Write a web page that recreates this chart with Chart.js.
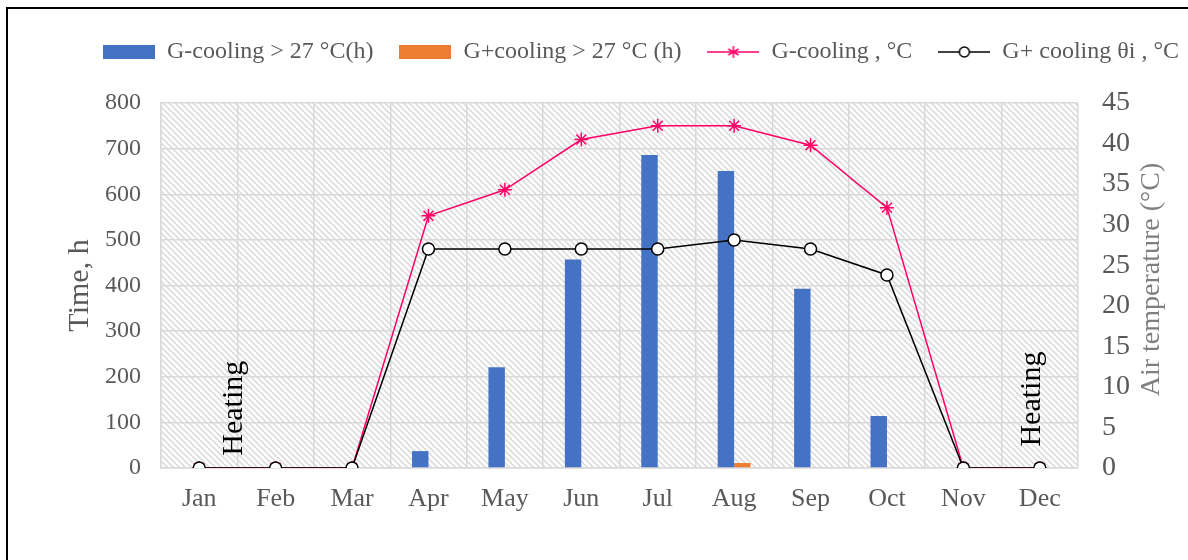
<!DOCTYPE html>
<html lang="en">
<head>
<meta charset="UTF-8">
<title>Cooling hours and air temperature</title>
<script src="https://cdn.jsdelivr.net/npm/chart.js"></script>
<style>
    html, body { margin: 0; padding: 0; background: #fff; }
    #frame {
        position: absolute; left: 6px; top: 7px; width: 1400px; height: 800px;
        border-left: 2px solid #000; border-top: 2px solid #000;
    }
    #wrap { position: absolute; left: 0; top: 0; width: 1188px; height: 560px; }
</style>
</head>
<body>
<div id="frame"></div>
<div id="wrap"><canvas id="chart"></canvas></div>
<script>
const months = ['Jan', 'Feb', 'Mar', 'Apr', 'May', 'Jun', 'Jul', 'Aug', 'Sep', 'Oct', 'Nov', 'Dec'];
const hoursNoCooling = [0, 0, 0, 37, 221, 457, 686, 651, 393, 114, 0, 0];
const hoursCooling = [0, 0, 0, 0, 0, 0, 0, 11, 0, 0, 0, 0];
const tempNoCooling = [0, 0, 0, 31.1, 34.3, 40.5, 42.2, 42.2, 39.8, 32.1, 0, 0];
const tempCooling = [0, 0, 0, 27, 27, 27, 27, 28.1, 27, 23.8, 0, 0];
const hoursTicks = [0, 100, 200, 300, 400, 500, 600, 700, 800];
const tempTicks = [0, 5, 10, 15, 20, 25, 30, 35, 40, 45];
// note labels, x in category units, y in hours
const notes = [
    { text: 'Heating', x: 0.46, y: 131 },
    { text: 'Heating', x: 10.9, y: 151 }
];

const SERIF = "'Liberation Serif', 'Times New Roman', serif";
const GREY = '#595959';
const GRID = '#d9d9d9';
const PINK = '#FF0066';
const BLUE = '#4472C4';
const ORANGE = '#ED7D31';

function swatch(draw) {
    const c = document.createElement('canvas');
    c.width = 52; c.height = 14;
    draw(c.getContext('2d'));
    return c;
}
const legendIcons = [
    swatch(ctx => { ctx.fillStyle = BLUE; ctx.fillRect(0, 0, 52, 14); }),
    swatch(ctx => { ctx.fillStyle = ORANGE; ctx.fillRect(0, 0, 52, 14); }),
    swatch(ctx => {
        ctx.strokeStyle = PINK; ctx.lineWidth = 1.5;
        ctx.beginPath(); ctx.moveTo(0, 7); ctx.lineTo(52, 7); ctx.stroke();
        ctx.beginPath();
        for (let a = 0; a < 3; a++) {
            const ang = Math.PI / 2 + a * Math.PI / 3;
            ctx.moveTo(26 - 6 * Math.cos(ang), 7 - 6 * Math.sin(ang));
            ctx.lineTo(26 + 6 * Math.cos(ang), 7 + 6 * Math.sin(ang));
        }
        ctx.stroke();
    }),
    swatch(ctx => {
        ctx.strokeStyle = '#000'; ctx.lineWidth = 1.5;
        ctx.beginPath(); ctx.moveTo(0, 7); ctx.lineTo(52, 7); ctx.stroke();
        ctx.beginPath(); ctx.arc(26, 7, 5, 0, Math.PI * 2);
        ctx.fillStyle = '#fff'; ctx.fill(); ctx.stroke();
    })
];

// hatched plot background
function hatch() {
    const c = document.createElement('canvas');
    c.width = 6; c.height = 6;
    const ctx = c.getContext('2d');
    ctx.fillStyle = '#fff'; ctx.fillRect(0, 0, 6, 6);
    ctx.strokeStyle = '#dcdcdc'; ctx.lineWidth = 1.6;
    ctx.beginPath();
    ctx.moveTo(-1, -1); ctx.lineTo(7, 7);
    ctx.moveTo(-4, 2); ctx.lineTo(1, 7);
    ctx.moveTo(2, -4); ctx.lineTo(7, 1);
    ctx.stroke();
    return c;
}

const plotBackground = {
    id: 'plotBackground',
    beforeDraw(chart) {
        const { ctx, chartArea: a } = chart;
        ctx.save();
        ctx.fillStyle = ctx.createPattern(hatch(), 'repeat');
        ctx.fillRect(a.left, a.top, a.right - a.left, a.bottom - a.top);
        ctx.restore();
    }
};

// extra room under the legend, and move it a little to the right
const legendTweak = {
    id: 'legendTweak',
    beforeInit(chart) {
        const fit = chart.legend.fit;
        chart.legend.fit = function () {
            fit.call(this);
            this.height += 29;
        };
    },
    afterLayout(chart) {
        chart.legend.left += 32;
        chart.legend.right += 32;
    }
};

const extraText = {
    id: 'extraText',
    afterDatasetsDraw(chart) {
        const { ctx, chartArea: a, scales } = chart;
        ctx.save();
        ctx.fillStyle = '#000';
        ctx.font = '30px ' + SERIF;
        ctx.textAlign = 'center';
        ctx.textBaseline = 'middle';
        notes.forEach(n => {
            ctx.save();
            ctx.translate(scales.x.getPixelForValue(n.x), scales.y.getPixelForValue(n.y));
            ctx.rotate(-Math.PI / 2);
            ctx.fillText(n.text, 0, 0);
            ctx.restore();
        });
        // right axis title, reading bottom to top
        ctx.fillStyle = '#7f7f7f';
        ctx.font = '28px ' + SERIF;
        ctx.translate(1152, (a.top + a.bottom) / 2 - 6);
        ctx.rotate(-Math.PI / 2);
        ctx.fillText('Air temperature (°C)', 0, 0);
        ctx.restore();
    }
};

new Chart(document.getElementById('chart'), {
    type: 'bar',
    data: {
        labels: months,
        datasets: [
            {
                label: 'G-cooling > 27 °C(h)',
                data: hoursNoCooling,
                backgroundColor: BLUE,
                yAxisID: 'y',
                order: 2,
                barPercentage: 1,
                categoryPercentage: 0.43
            },
            {
                label: 'G+cooling > 27 °C (h)',
                data: hoursCooling,
                backgroundColor: ORANGE,
                yAxisID: 'y',
                order: 3,
                barPercentage: 1,
                categoryPercentage: 0.43
            },
            {
                type: 'line',
                label: 'G-cooling , °C',
                data: tempNoCooling,
                borderColor: PINK,
                backgroundColor: PINK,
                borderWidth: 1.5,
                pointStyle: 'star',
                pointRadius: 7,
                pointBorderWidth: 1.5,
                yAxisID: 'y1',
                order: 1,
                tension: 0
            },
            {
                type: 'line',
                label: 'G+ cooling θi , °C',
                data: tempCooling,
                borderColor: '#000',
                backgroundColor: '#fff',
                borderWidth: 1.5,
                pointStyle: 'circle',
                pointRadius: 6,
                pointBorderWidth: 1.5,
                yAxisID: 'y1',
                order: 0,
                tension: 0
            }
        ]
    },
    options: {
        responsive: true,
        maintainAspectRatio: false,
        animation: false,
        layout: { padding: { left: 30, right: 0, top: 14, bottom: 0 } },
        plugins: {
            tooltip: { enabled: false },
            legend: {
                position: 'top',
                labels: {
                    usePointStyle: true,
                    pointStyleWidth: 52,
                    padding: 26,
                    color: GREY,
                    font: { family: SERIF, size: 24 },
                    sort: (a, b) => a.datasetIndex - b.datasetIndex,
                    generateLabels(chart) {
                        const items = Chart.defaults.plugins.legend.labels.generateLabels(chart);
                        items.forEach(it => { it.pointStyle = legendIcons[it.datasetIndex]; });
                        return items;
                    }
                }
            }
        },
        scales: {
            x: {
                grid: { color: GRID, lineWidth: 1.5, drawTicks: false, offset: true },
                border: { color: GRID, width: 1.5 },
                ticks: { color: GREY, font: { family: SERIF, size: 26 }, padding: 16 },
                afterFit(s) { s.height = 92; }
            },
            y: {
                position: 'left',
                min: 0,
                max: 800,
                afterBuildTicks(s) { s.ticks = hoursTicks.map(v => ({ value: v })); },
                grid: { color: GRID, lineWidth: 1.5, drawTicks: false },
                border: { color: GRID, width: 1.5 },
                ticks: { color: GREY, font: { family: SERIF, size: 24 }, padding: 20 },
                title: {
                    display: true, text: 'Time, h', color: GREY,
                    font: { family: SERIF, size: 30 }, padding: { top: 32, bottom: 4 }
                },
                afterFit(s) { s.width = 131; }
            },
            y1: {
                position: 'right',
                min: 0,
                max: 45,
                afterBuildTicks(s) { s.ticks = tempTicks.map(v => ({ value: v })); },
                grid: { display: false, drawTicks: false },
                border: { display: false },
                ticks: { color: GREY, font: { family: SERIF, size: 28 }, padding: 24 },
                afterFit(s) { s.width = 110; }
            }
        }
    },
    plugins: [plotBackground, legendTweak, extraText]
});
</script>
</body>
</html>
